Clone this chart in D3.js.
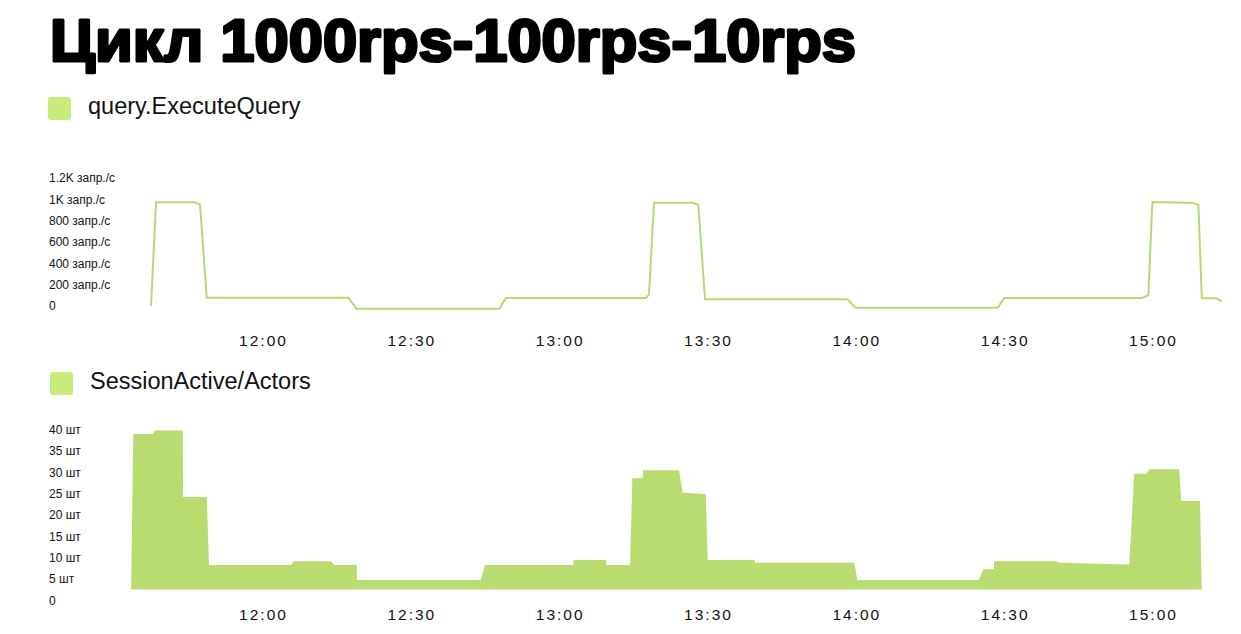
<!DOCTYPE html>
<html>
<head>
<meta charset="utf-8">
<script src="https://cdn.jsdelivr.net/npm/d3@7"></script>
<style>
  html, body { margin: 0; padding: 0; background: #fff; }
  svg { display: block; font-family: "Liberation Sans", Arial, sans-serif; }
  .tick text { fill: #111; }
</style>
</head>
<body>
<div class="chart"></div>
<script>
const title = 'Цикл 1000rps-100rps-10rps';

// query.ExecuteQuery, запр./с
const queryTimes = [
  '11:37:21', '11:38:22', '11:46:15', '11:47:16', '11:48:37', '12:17:15', '12:18:57',
  '12:47:48', '12:49:05', '13:17:28', '13:18:04', '13:19:05', '13:26:55', '13:28:03',
  '13:29:24', '13:58:16', '13:59:44', '14:28:36', '14:29:53', '14:57:44', '14:59:04',
  '14:59:52', '15:08:10', '15:09:11', '15:09:52', '15:12:54', '15:13:55'
];
const queryValues = [
  28, 1000, 1000, 978, 106, 106, 2,
  2, 102, 102, 140, 995, 995, 975,
  91, 91, 12, 12, 102, 102, 131,
  1002, 993, 975, 100, 100, 72
];

// SessionActive/Actors, шт
const actorTimes = [
  '11:33:18', '11:33:46', '11:37:41', '11:38:10', '11:43:46', '11:43:50', '11:48:37',
  '11:49:05', '12:05:40', '12:06:16', '12:13:45', '12:14:25', '12:18:57', '12:19:02',
  '12:44:02', '12:44:54', '13:02:46', '13:02:49', '13:09:23', '13:09:31', '13:14:14',
  '13:14:42', '13:16:48', '13:16:52', '13:24:08', '13:24:53', '13:29:32', '13:29:57',
  '13:39:22', '13:39:35', '13:59:36', '14:00:12', '14:24:48', '14:25:42', '14:27:48',
  '14:27:54', '14:40:18', '14:41:06', '14:55:12', '14:56:12', '14:58:36', '14:59:18',
  '15:05:18', '15:05:42', '15:09:30', '15:09:54'
];
const actorValues = [
  0, 39.2, 39.2, 40, 40, 24.4, 24.4,
  8.5, 8.5, 9.4, 9.4, 8.5, 8.5, 5,
  5, 8.5, 8.5, 9.7, 9.7, 8.5, 8.5,
  28.8, 28.8, 30.7, 30.7, 25.4, 25.1, 9.7,
  9.7, 9.0, 9.0, 5, 5, 7.5, 7.5,
  9.4, 9.4, 9.0, 8.6, 29.9, 29.9, 30.9,
  30.9, 23.5, 23.5, 0
];

const timeTicks = ['12:00', '12:30', '13:00', '13:30', '14:00', '14:30', '15:00'];
const rpsTicks = [0, 200, 400, 600, 800, 1000, 1200];
const actorTicks = [0, 5, 10, 15, 20, 25, 30, 35, 40];

const W = 1241, H = 634;
const lineColor = '#b5db6c';
const areaColor = '#b8dc6f';
const legendColor = '#c8ec7c';

const parseTime = d3.timeParse('%H:%M:%S');
const t = s => parseTime(s.length === 5 ? s + ':00' : s);

const x = d3.scaleTime()
  .domain([t('12:00'), t('15:00')])
  .range([263, 1153]);

const yRps = d3.scaleLinear().domain([0, 1200]).range([309, 181]);
const yActors = d3.scaleLinear().domain([0, 40]).range([601.3, 430.5]);

const rpsFormat = v => {
  if (v === 0) return '0';
  return (v >= 1000 ? d3.format('~')(v / 1000) + 'K' : v) + ' запр./с';
};
const actorFormat = v => v === 0 ? '0' : v + ' шт';

const svg = d3.select('.chart').append('svg')
  .attr('width', W)
  .attr('height', H);

svg.append('rect').attr('width', W).attr('height', H).attr('fill', '#fff');

svg.append('text')
  .attr('x', 50)
  .attr('y', 61)
  .attr('font-size', 60)
  .attr('font-weight', 'bold')
  .attr('fill', '#000')
  .attr('stroke', '#000')
  .attr('stroke-width', 3)
  .attr('stroke-linejoin', 'round')
  .attr('textLength', 806)
  .attr('lengthAdjust', 'spacingAndGlyphs')
  .text(title);

function legend(xPos, yPos, label) {
  const g = svg.append('g').attr('transform', `translate(${xPos}, ${yPos})`);
  g.append('rect')
    .attr('width', 23)
    .attr('height', 23)
    .attr('rx', 3)
    .attr('fill', legendColor);
  g.append('text')
    .attr('x', 40)
    .attr('y', 17)
    .attr('font-size', 23.5)
    .attr('fill', '#111')
    .text(label);
}

function timeAxis(yPos) {
  const g = svg.append('g')
    .attr('transform', `translate(0, ${yPos})`)
    .call(d3.axisBottom(x)
      .tickValues(timeTicks.map(t))
      .tickFormat(d3.timeFormat('%H:%M'))
      .tickSize(0)
      .tickPadding(0));
  g.select('.domain').remove();
  g.selectAll('text')
    .attr('font-size', 15.5)
    .attr('letter-spacing', 2)
    .attr('dx', 0)
    .style('font-family', '"Liberation Sans", Arial, sans-serif');
}

function valueAxis(scale, ticks, fmt, lift) {
  const g = svg.append('g')
    .attr('transform', `translate(49, ${-lift})`)
    .call(d3.axisRight(scale)
      .tickValues(ticks)
      .tickFormat(fmt)
      .tickSize(0)
      .tickPadding(0));
  g.select('.domain').remove();
  g.selectAll('text')
    .attr('font-size', 12)
    .style('font-family', '"Liberation Sans", Arial, sans-serif');
}

/*
 * query.ExecuteQuery
 */
legend(48, 97, 'query.ExecuteQuery');
valueAxis(yRps, rpsTicks, rpsFormat, 3);
timeAxis(335);

const queryData = queryTimes.map((s, i) => ({time: t(s), value: queryValues[i]}));

svg.append('path')
  .datum(queryData)
  .attr('fill', 'none')
  .attr('stroke', lineColor)
  .attr('stroke-width', 2)
  .attr('stroke-linejoin', 'round')
  .attr('d', d3.line()
    .x(d => x(d.time))
    .y(d => yRps(d.value)));

/*
 * SessionActive/Actors
 */
legend(50, 372, 'SessionActive/Actors');
valueAxis(yActors, actorTicks, actorFormat, 1);
timeAxis(609);

const actorData = actorTimes.map((s, i) => ({time: t(s), value: actorValues[i]}));

// plot area ends a little above the zero tick
svg.append('clipPath')
  .attr('id', 'actors-clip')
  .append('rect')
    .attr('x', 0)
    .attr('y', 0)
    .attr('width', W)
    .attr('height', 589.5);

svg.append('path')
  .datum(actorData)
  .attr('clip-path', 'url(#actors-clip)')
  .attr('fill', areaColor)
  .attr('d', d3.area()
    .x(d => x(d.time))
    .y0(yActors(0))
    .y1(d => yActors(d.value)));
</script>
</body>
</html>
